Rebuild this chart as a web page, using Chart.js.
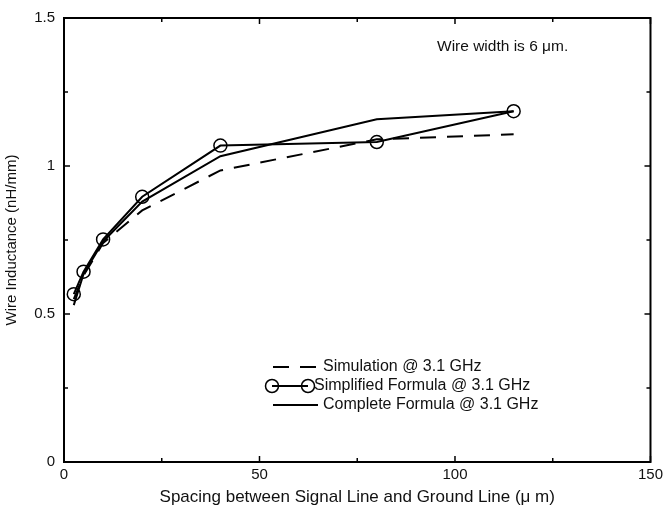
<!DOCTYPE html>
<html>
<head>
<meta charset="utf-8">
<script src="https://cdn.jsdelivr.net/npm/chart.js@4/dist/chart.umd.min.js"></script>
<style>
  html, body { margin: 0; padding: 0; background: #fff; }
  #wrap { width: 667px; height: 508px; position: relative; }
</style>
</head>
<body>
<div id="wrap"><canvas id="chart"></canvas></div>
<script>
// spacing between signal line and ground line (um)
const spacing = [2.5, 5, 10, 20, 40, 80, 115];
// wire inductance (nH/mm)
const simulation = [0.55, 0.63, 0.74, 0.85, 0.985, 1.09, 1.107];
const simplified = [0.567, 0.643, 0.752, 0.896, 1.069, 1.081, 1.185];
const complete = [0.53, 0.635, 0.745, 0.88, 1.033, 1.158, 1.185];

const xMajor = [0, 50, 100, 150];
const xMinor = [25, 75, 125];
const yMajor = [0, 0.5, 1, 1.5];
const yMinor = [0.25, 0.75, 1.25];

const note = 'Wire width is 6 μm.';
const FONT = '"Liberation Sans", Arial, sans-serif';

const pts = ys => spacing.map((x, i) => ({ x, y: ys[i] }));

// inward ticks on all four sides + frame
const frameTicks = {
  id: 'frameTicks',
  afterDatasetsDraw(chart) {
    const { ctx, chartArea: a, scales: { x, y } } = chart;
    ctx.save();
    ctx.strokeStyle = '#000';
    ctx.lineWidth = 1.5;
    ctx.beginPath();
    const tx = (v, len) => {
      const p = x.getPixelForValue(v);
      ctx.moveTo(p, a.bottom); ctx.lineTo(p, a.bottom - len);
      ctx.moveTo(p, a.top); ctx.lineTo(p, a.top + len);
    };
    const ty = (v, len) => {
      const p = y.getPixelForValue(v);
      ctx.moveTo(a.left, p); ctx.lineTo(a.left + len, p);
      ctx.moveTo(a.right, p); ctx.lineTo(a.right - len, p);
    };
    xMajor.forEach(v => tx(v, 6));
    xMinor.forEach(v => tx(v, 4));
    yMajor.forEach(v => ty(v, 6));
    yMinor.forEach(v => ty(v, 4));
    ctx.stroke();
    ctx.lineWidth = 2;
    ctx.strokeRect(a.left, a.top, a.right - a.left, a.bottom - a.top);
    ctx.restore();
  }
};

// legend and note drawn by hand (circle-line-circle sample)
const customLegend = {
  id: 'customLegend',
  afterDraw(chart) {
    const ctx = chart.ctx;
    const ds = chart.data.datasets;
    ctx.save();
    ctx.fillStyle = '#111';
    ctx.textBaseline = 'middle';
    ctx.font = '15.5px ' + FONT;
    ctx.fillText(note, 437, 47);

    ctx.font = '16px ' + FONT;
    ctx.strokeStyle = '#000';
    ctx.lineWidth = 2;
    // simulation
    let yy = 367;
    ctx.setLineDash(ds[0].borderDash);
    ctx.beginPath(); ctx.moveTo(273, yy); ctx.lineTo(318, yy); ctx.stroke();
    ctx.setLineDash([]);
    ctx.fillText(ds[0].label, 323, yy);
    // simplified
    yy = 386;
    ctx.beginPath(); ctx.moveTo(272, yy); ctx.lineTo(308, yy); ctx.stroke();
    ctx.lineWidth = 1.5;
    [272, 308].forEach(cx => { ctx.beginPath(); ctx.arc(cx, yy, 6.5, 0, Math.PI * 2); ctx.stroke(); });
    ctx.fillText(ds[1].label, 314, yy);
    // complete
    yy = 405;
    ctx.lineWidth = 2;
    ctx.beginPath(); ctx.moveTo(273, yy); ctx.lineTo(318, yy); ctx.stroke();
    ctx.fillText(ds[2].label, 323, yy);
    ctx.restore();
  }
};

new Chart(document.getElementById('chart'), {
  type: 'scatter',
  data: {
    datasets: [
      { label: 'Simulation @ 3.1 GHz', data: pts(simulation), showLine: true, borderColor: '#000', borderWidth: 2, borderDash: [16, 11], pointRadius: 0, fill: false },
      { label: 'Simplified Formula @ 3.1 GHz', data: pts(simplified), showLine: true, borderColor: '#000', borderWidth: 2, pointRadius: 6.5, pointBorderWidth: 1.5, pointBackgroundColor: 'rgba(0,0,0,0)', pointBorderColor: '#000', fill: false },
      { label: 'Complete Formula @ 3.1 GHz', data: pts(complete), showLine: true, borderColor: '#000', borderWidth: 2, pointRadius: 0, fill: false },
    ]
  },
  options: {
    responsive: true, maintainAspectRatio: false, animation: false,
    layout: { padding: { top: 14, right: 16, left: 0, bottom: 0 } },
    plugins: { legend: { display: false }, tooltip: { enabled: false } },
    scales: {
      x: {
        type: 'linear', min: 0, max: 150,
        afterFit: s => { s.height = 46; },
        grid: { display: false, drawTicks: false },
        border: { display: false },
        ticks: { stepSize: 50, color: '#111', padding: 4, font: { size: 15, family: FONT } },
        title: { display: true, text: 'Spacing between Signal Line and Ground Line (μ m)', color: '#111', padding: { top: 0, bottom: 0 }, font: { size: 17, family: FONT } },
      },
      y: {
        min: 0, max: 1.5,
        afterFit: s => { s.width = 64; },
        grid: { display: false, drawTicks: false },
        border: { display: false },
        ticks: { stepSize: 0.5, color: '#111', padding: 9, font: { size: 15, family: FONT }, callback: v => String(v) },
        title: { display: true, text: 'Wire Inductance (nH/mm)', color: '#111', padding: { top: 3, bottom: 0 }, font: { size: 15, family: FONT } },
      },
    },
  },
  plugins: [frameTicks, customLegend],
});
</script>
</body>
</html>
